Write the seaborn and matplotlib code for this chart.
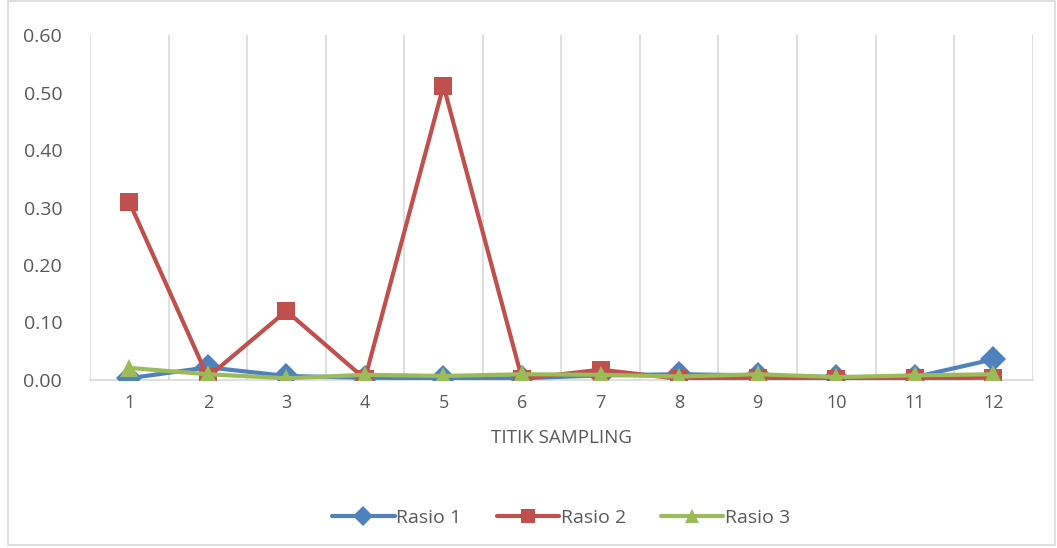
import numpy as np
import pandas as pd
import matplotlib
matplotlib.use("Agg")
import matplotlib.pyplot as plt
import seaborn as sns
from matplotlib.patches import Rectangle

sampling = list(range(1, 13))
rasio_1 = [0.003, 0.022, 0.007, 0.004, 0.003, 0.003, 0.008, 0.010, 0.008, 0.005, 0.005, 0.036]
rasio_2 = [0.310, 0.005, 0.120, 0.002, 0.512, 0.002, 0.018, 0.002, 0.004, 0.002, 0.003, 0.004]
rasio_3 = [0.021, 0.010, 0.003, 0.009, 0.007, 0.010, 0.009, 0.006, 0.010, 0.005, 0.008, 0.010]
series_names = ["Rasio 1", "Rasio 2", "Rasio 3"]
y_ticks = [0.0, 0.1, 0.2, 0.3, 0.4, 0.5, 0.6]

df = pd.DataFrame({
    "titik": sampling * 3,
    "nilai": rasio_1 + rasio_2 + rasio_3,
    "seri": [s for s in series_names for _ in sampling],
})

sns.set_style("white")
plt.rcParams["font.family"] = ["Open Sans", "DejaVu Sans"]
text_col = "#595959"
grid_col = "#D9D9D9"

fig = plt.figure(figsize=(10.57, 5.48), dpi=100)
ax = fig.add_axes([0.0851, 0.3066, 0.8919, 0.6294])

palette = {"Rasio 1": "#4F81BD", "Rasio 2": "#C0504D", "Rasio 3": "#9BBB59"}
markers = {"Rasio 1": "D", "Rasio 2": "s", "Rasio 3": "^"}
sns.lineplot(data=df, x="titik", y="nilai", hue="seri", style="seri",
             palette=palette, markers=markers, dashes=False, lw=3,
             markersize=13, markeredgewidth=0, ax=ax, zorder=3)

ax.set_xlim(0.5, 12.5)
ax.set_ylim(0, 0.6)
ax.set_yticks(y_ticks)
ax.set_yticklabels([f"{v:.2f}" for v in y_ticks])
ax.set_xticks(sampling)
ax.set_xticklabels([str(s) for s in sampling])
for xv in np.arange(0.5, 13, 1.0):
    ax.axvline(xv, color=grid_col, lw=1.2, zorder=0)
for side in ["top", "right", "left"]:
    ax.spines[side].set_visible(False)
ax.spines["bottom"].set_color(grid_col)
ax.spines["bottom"].set_linewidth(1.2)
ax.tick_params(axis="both", length=0, colors=text_col)
ax.tick_params(axis="y", pad=20, labelsize=14)
ax.tick_params(axis="x", pad=10, labelsize=13)
ax.set_xlabel("TITIK SAMPLING", color=text_col, fontsize=13.5, labelpad=12)
ax.set_ylabel("")

handles, labels = ax.get_legend_handles_labels()
ax.legend(handles, labels, loc="center", bbox_to_anchor=(0.5, -0.4),
          ncol=3, frameon=False, prop={"size": 14}, labelcolor=text_col,
          handlelength=3.2, handletextpad=0.1, columnspacing=1.8,
          markerscale=0.8)

fig.patches.append(Rectangle((0.008, 0.005), 0.99, 0.993, transform=fig.transFigure,
                             fill=False, edgecolor=grid_col, lw=1.2))

fig.savefig("out.png", dpi=100)
